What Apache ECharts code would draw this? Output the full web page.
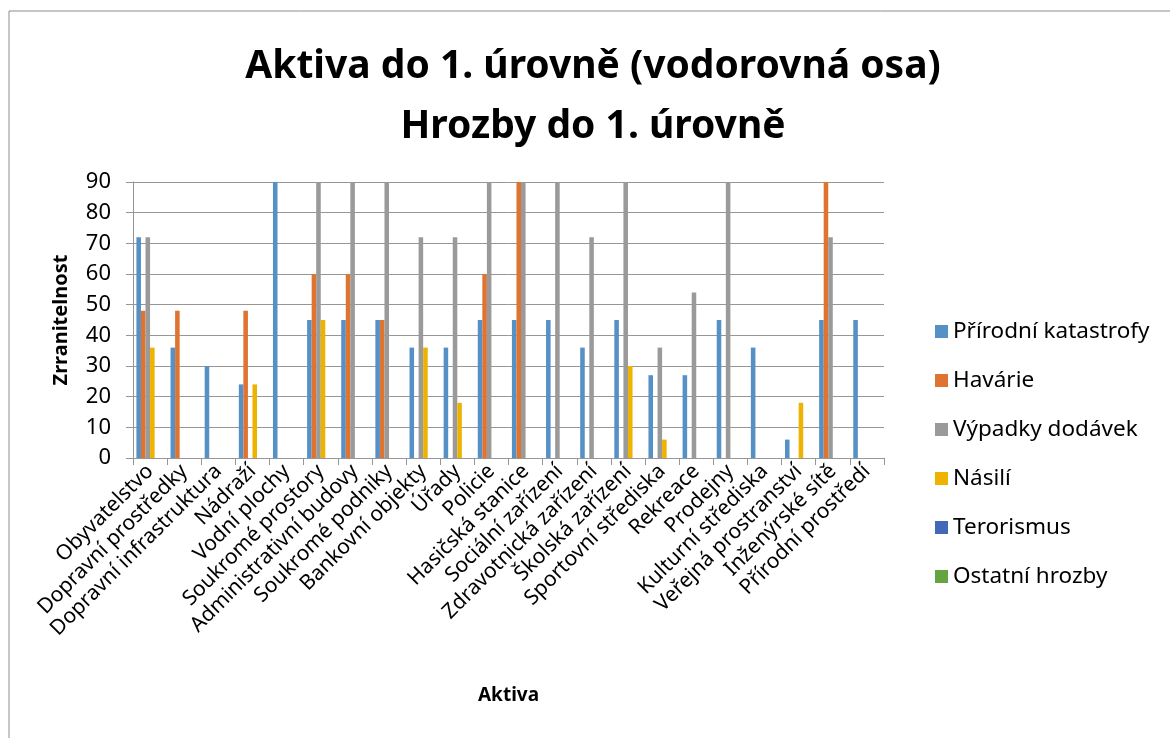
<!DOCTYPE html>
<html>
<head>
<meta charset="utf-8">
<script src="https://cdn.jsdelivr.net/npm/echarts@6/dist/echarts.min.js"></script>
<style>
  html, body { margin: 0; padding: 0; background: #fff; }
  #chart { width: 1170px; height: 738px; }
</style>
</head>
<body>
<div id="chart"></div>
<script>
// aktiva (kategorie na vodorovné ose)
const categories = [
  'Obyvatelstvo', 'Dopravní prostředky', 'Dopravní infrastruktura', 'Nádraží',
  'Vodní plochy', 'Soukromé prostory', 'Administrativní budovy', 'Soukromé podniky',
  'Bankovní objekty', 'Úřady', 'Policie', 'Hasičská stanice', 'Sociální zařízení',
  'Zdravotnická zařízení', 'Školská zařízení', 'Sportovní střediska', 'Rekreace',
  'Prodejny', 'Kulturní střediska', 'Veřejná prostranství', 'Inženýrské sítě',
  'Přírodní prostředí'
];

// hrozby - hodnoty zranitelnosti (null = prázdná buňka)
const prirodniKatastrofy = [72, 36, 30, 24, 90, 45, 45, 45, 36, 36, 45, 45, 45, 36, 45, 27, 27, 45, 36, 6, 45, 45];
const havarie = [48, 48, null, 48, null, 60, 60, 45, null, null, 60, 90, null, null, null, null, null, null, null, null, 90, null];
const vypadkyDodavek = [72, null, null, null, null, 90, 90, 90, 72, 72, 90, 90, 90, 72, 90, 36, 54, 90, null, null, 72, null];
const nasili = [36, null, null, 24, null, 45, null, null, 36, 18, null, null, null, null, 30, 6, null, null, null, 18, null, null];
const terorismus = [null, null, null, null, null, null, null, null, null, null, null, null, null, null, null, null, null, null, null, null, null, null];
const ostatniHrozby = [null, null, null, null, null, null, null, null, null, null, null, null, null, null, null, null, null, null, null, null, null, null];

const yTicks = { min: 0, max: 90, interval: 10 };

const seriesNames = ['Přírodní katastrofy', 'Havárie', 'Výpadky dodávek', 'Násilí', 'Terorismus', 'Ostatní hrozby'];
const seriesData = [prirodniKatastrofy, havarie, vypadkyDodavek, nasili, terorismus, ostatniHrozby];
const colors = ['#5590c6', '#de7430', '#9a9a9a', '#eeb200', '#4169b8', '#66a341'];

const font = '"Noto Sans", sans-serif';

var myChart = echarts.init(document.getElementById('chart'));
var option = {
  animation: false,
  color: colors,
  textStyle: { fontFamily: font, color: '#000' },
  title: {
    text: 'Aktiva do 1. úrovně (vodorovná osa)\nHrozby do 1. úrovně',
    left: 588,
    textAlign: 'center',
    top: 32,
    textStyle: {
      fontFamily: font,
      fontSize: 39,
      fontWeight: 'bold',
      color: '#000',
      lineHeight: 60
    }
  },
  graphic: [{
    type: 'rect',
    shape: { x: 9, y: 11, width: 1200, height: 800 },
    style: { fill: 'none', stroke: '#8c8c8c', lineWidth: 1 },
    silent: true
  }],
  legend: {
    orient: 'vertical',
    left: 930,
    top: 315,
    itemWidth: 13,
    itemHeight: 13,
    itemGap: 26,
    icon: 'rect',
    textStyle: { fontFamily: font, fontSize: 22.5, color: '#000' },
    data: seriesNames
  },
  grid: {
    left: 133,
    right: 286,
    top: 182,
    bottom: 280
  },
  xAxis: {
    type: 'category',
    data: categories,
    name: 'Aktiva',
    nameLocation: 'middle',
    nameGap: 228,
    nameTextStyle: { fontFamily: font, fontSize: 19, fontWeight: 'bold', color: '#000' },
    axisLine: { lineStyle: { color: '#969696', width: 1 } },
    axisTick: { show: true, length: 7, lineStyle: { color: '#969696' } },
    axisLabel: {
      rotate: 45,
      interval: 0,
      fontSize: 21,
      color: '#000',
      margin: 10,
      fontFamily: font
    }
  },
  yAxis: {
    type: 'value',
    min: yTicks.min,
    max: yTicks.max,
    interval: yTicks.interval,
    name: 'Zrranitelnost',
    nameLocation: 'middle',
    nameGap: 62,
    nameRotate: 90,
    nameTextStyle: { fontFamily: font, fontSize: 20, fontWeight: 'bold', color: '#000' },
    axisLine: { show: true, lineStyle: { color: '#969696', width: 1 } },
    axisTick: { show: true, length: 7, lineStyle: { color: '#969696' } },
    axisLabel: { fontSize: 22, color: '#000', margin: 22, fontFamily: font },
    splitLine: { lineStyle: { color: '#969696', width: 1 } }
  },
  series: seriesNames.map(function (name, i) {
    return {
      name: name,
      type: 'bar',
      data: seriesData[i],
      barGap: '0%',
      barCategoryGap: '20%',
      itemStyle: { color: colors[i] }
    };
  })
};

myChart.setOption(option);
</script>
</body>
</html>
